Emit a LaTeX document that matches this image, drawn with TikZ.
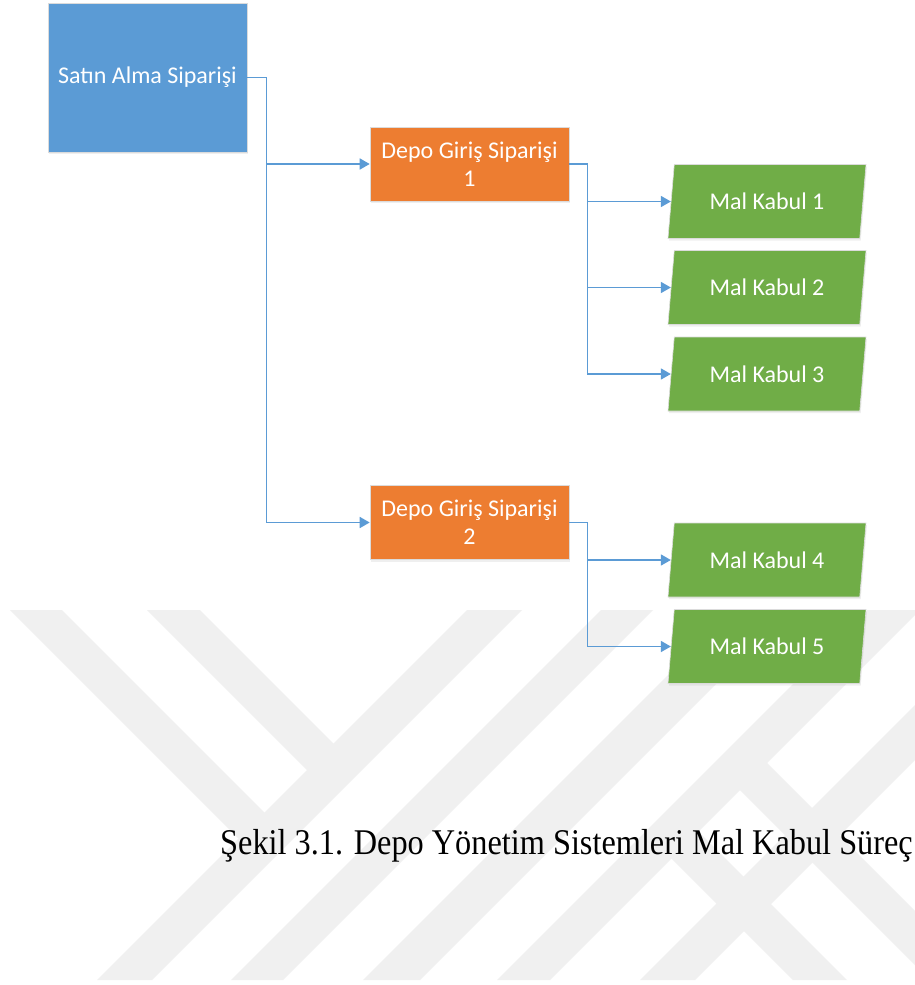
\documentclass[tikz,border=0pt]{standalone}
\usepackage{fontspec}
\usepackage{graphicx}
\setmainfont{Carlito}
\newfontfamily\capfont{Liberation Serif}
\usetikzlibrary{shapes.geometric, arrows.meta, shadows}

\definecolor{sablue}{HTML}{5B9BD5}
\definecolor{dgorange}{HTML}{ED7D31}
\definecolor{mkgreen}{HTML}{70AD47}
\definecolor{linkblue}{HTML}{5B9BD5}
\definecolor{wmgray}{HTML}{F0F0F0}

\tikzset{
  box/.style={rectangle, draw=white!72!gray, line width=0.6pt, text=white,
    font=\fontsize{24}{28}\selectfont, align=center,
    drop shadow={shadow xshift=1pt, shadow yshift=-2pt, opacity=0.12}},
  sabox/.style={box, fill=sablue, minimum width=199pt, minimum height=149pt},
  dgbox/.style={box, fill=dgorange, minimum width=199pt, minimum height=74pt},
  mkbox/.style={box, trapezium, trapezium left angle=75, trapezium right angle=105,
    trapezium stretches body, fill=mkgreen, minimum width=198pt, minimum height=74pt},
  link/.style={draw=linkblue, line width=1.6pt, -{Triangle[length=10pt,width=11pt]}},
  wm/.style={fill=wmgray, draw=none}
}

\begin{document}
\begin{tikzpicture}[x=1pt, y=-1pt]
\useasboundingbox[fill=white] (0,0) rectangle (915,985);

\begin{scope}
\clip (0,610) rectangle (915,980);
\fill[wm] (10,610) -- (62,610) -- (278,826) -- (252,852) -- cycle;
\fill[wm] (147,610) -- (200,610) -- (347,757) -- (320.5,783.5) -- cycle;
\foreach \a/\b in {1077/1132, 1211/1263, 1343/1400, 1477/1530, 1620/1675}
  \fill[wm] (\a-610,610) -- (\b-610,610) -- (\b-980,980) -- (\a-980,980) -- cycle;
\fill[wm] (726.5,776.5) -- (753.5,749.5) -- (984,980) -- (930,980) -- cycle;
\fill[wm] (658,845) -- (685,818) -- (847,980) -- (793,980) -- cycle;
\end{scope}

\node[sabox](sa) at (147.5,77.5) {Satın Alma Siparişi};
\node[dgbox](dg1) at (469.5,164) {Depo Giriş Siparişi\\1};
\node[dgbox](dg2) at (469.5,522.5) {Depo Giriş Siparişi\\2};
\node[mkbox](mk1) at (767,201.5) {Mal Kabul 1};
\node[mkbox](mk2) at (767,287.5) {Mal Kabul 2};
\node[mkbox](mk3) at (767,374) {Mal Kabul 3};
\node[mkbox](mk4) at (767,560) {Mal Kabul 4};
\node[mkbox](mk5) at (767,646.5) {Mal Kabul 5};

\draw[link](sa.east) -- ++(19,0) |- (dg1.west);
\draw[link](sa.east) -- ++(19,0) |- (dg2.west);
\draw[link](dg1.east) -- ++(18,0) |- (mk1.left side);
\draw[link](dg1.east) -- ++(18,0) |- (mk2.left side);
\draw[link](dg1.east) -- ++(18,0) |- (mk3.left side);
\draw[link](dg2.east) -- ++(18,0) |- (mk4.left side);
\draw[link](dg2.east) -- ++(18,0) |- (mk5.left side);

\node[anchor=base west, inner sep=0pt, font=\capfont\fontsize{32.3}{40}\selectfont](cap) at (220,854)
  {\scalebox{1}[1.12]{Şekil 3.1. Depo Yönetim Sistemleri Mal Kabul Süreç}};
\end{tikzpicture}
\end{document}
